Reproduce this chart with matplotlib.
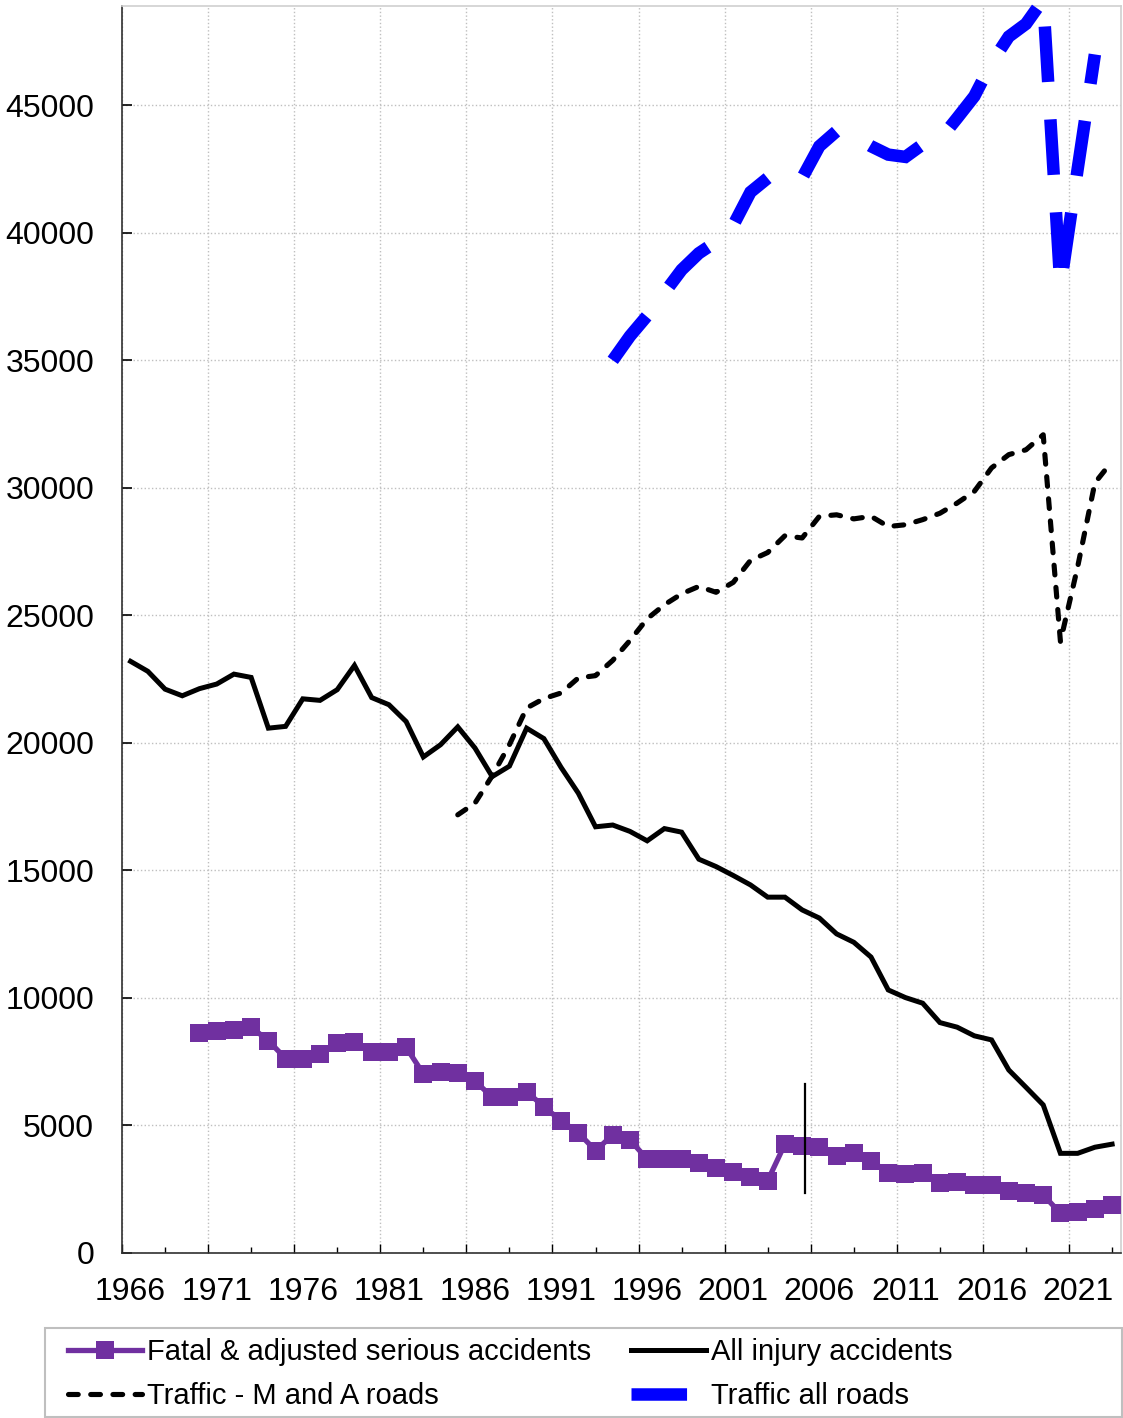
import matplotlib
matplotlib.use('Agg')
import matplotlib.pyplot as plt
from matplotlib.patches import Rectangle

plt.rcParams['font.family'] = ['Liberation Sans', 'DejaVu Sans']
plt.rcParams['lines.scale_dashes'] = False

# ---- data ----
injury_years = list(range(1966, 2024))
all_injury = [23190, 22800, 22100, 21840, 22120, 22300, 22690, 22560, 20570, 20640,
              21720, 21660, 22080, 23030, 21770, 21490, 20830, 19440, 19920, 20620,
              19790, 18670, 19080, 20570, 20160, 19030, 18020, 16700, 16770, 16520,
              16150, 16630, 16490, 15430, 15140, 14790, 14420, 13940, 13940, 13440,
              13120, 12500, 12170, 11590, 10300, 10000, 9780, 9020, 8840, 8500,
              8340, 7160, 6480, 5790, 3890, 3890, 4130, 4250]

fatal_years = list(range(1970, 2024))
fatal_serious = [8630, 8670, 8730, 8840, 8310, 7610, 7610, 7790, 8210, 8270,
                 7870, 7870, 8050, 7010, 7100, 7060, 6730, 6090, 6090, 6310,
                 5720, 5170, 4700, 4000, 4610, 4420, 3660, 3670, 3680, 3500,
                 3300, 3160, 2980, 2820, 4260, 4180, 4150, 3790, 3890, 3600,
                 3130, 3080, 3110, 2720, 2780, 2660, 2660, 2410, 2350, 2260,
                 1540, 1590, 1700, 1860]

ma_years = list(range(1985, 2024))
traffic_ma = [17170, 17630, 18700, 19920, 21360, 21730, 21950, 22540, 22630, 23230,
              24010, 24860, 25410, 25840, 26130, 25900, 26290, 27150, 27460, 28120,
              28030, 28880, 28940, 28780, 28880, 28480, 28550, 28750, 29000, 29400,
              29860, 30780, 31300, 31490, 32080, 23970, 26900, 30190, 31040]

all_roads_years = list(range(1994, 2023))
traffic_all = [35000, 35950, 36750, 37650, 38550, 39200, 39650, 40300, 41600, 42150,
               42100, 42150, 43400, 43990, 43800, 43400, 43070, 42980, 43470, 43660,
               44500, 45360, 46670, 47700, 48200, 49150, 37900, 42500, 47000]

label_years = list(range(1966, 2022, 5))
y_ticks = list(range(0, 45001, 5000))
break_year = 2005.15
break_span = [2330, 6610]

labels = ['Fatal & adjusted serious accidents', 'Traffic - M and A roads',
          'All injury accidents', 'Traffic all roads']

# ---- figure ----
W, H = 1123, 1418
fig = plt.figure(figsize=(W / 100, H / 100), dpi=100)
ax = fig.add_axes([122 / W, 1 - 1252.5 / H, (1120.7 - 122) / W, (1252.5 - 6) / H])

purple = '#7030A0'
fatal_line, = ax.plot(fatal_years, fatal_serious, color=purple, lw=3.8, marker='s',
                      markersize=13.2, markeredgewidth=0, zorder=4)
injury_line, = ax.plot(injury_years, all_injury, color='black', lw=3.6,
                       solid_joinstyle='miter', zorder=3)
ma_line, = ax.plot(ma_years, traffic_ma, color='black', lw=3.7, linestyle=(0, (7, 9)),
                   dash_capstyle='round', zorder=3)
all_line, = ax.plot(all_roads_years, traffic_all, color='#0000FF', lw=9,
                    linestyle=(0, (40, 27)), dash_capstyle='butt',
                    dash_joinstyle='miter', clip_on=False, zorder=3)
ax.plot([break_year, break_year], break_span, color='black', lw=1.6, zorder=5)

ax.set_xlim(1965.5, 2023.5)
ax.set_ylim(0, 48900)

# ticks and grid
ax.set_xticks(label_years)
ax.set_xticklabels([str(y) for y in label_years])
ax.set_xticks([b + 0.5 for b in range(1965, 2021, 5)], minor=True)
ax.tick_params(axis='x', which='major', length=0, pad=18, labelsize=23)
ax.tick_params(axis='x', which='minor', direction='in', length=6.5, width=1)
ax.set_yticks(y_ticks)
ax.set_yticklabels([str(v) for v in y_ticks])
ax.tick_params(axis='y', which='major', direction='in', length=7, width=1.2,
               pad=20, labelsize=23)

trans = ax.get_xaxis_transform()
mid_ticks = [b + 3 for b in range(1965, 2021, 5)]
ax.vlines(mid_ticks, 0, 6 / 1246.5, transform=trans, colors='black', lw=1)

ax.grid(which='minor', axis='x', linestyle=':', color='#bfbfbf', lw=1)
ax.grid(which='major', axis='y', linestyle=':', color='#bfbfbf', lw=1)
ax.set_axisbelow(True)

for side in ['top', 'right']:
    ax.spines[side].set_color('#d0d0d0')
    ax.spines[side].set_linewidth(1.2)
for side in ['left', 'bottom']:
    ax.spines[side].set_color('#303030')
    ax.spines[side].set_linewidth(1.2)

# legend
fig.add_artist(Rectangle((45 / W, 1 - 1417 / H), (1122 - 45) / W, (1417 - 1328) / H,
                         transform=fig.transFigure, fill=False,
                         edgecolor='#bfbfbf', lw=1.5))
handles = [fatal_line, ma_line, injury_line, all_line]
fig.legend(handles, labels, ncol=2, loc='upper left',
           bbox_to_anchor=(68 / W, 1 - 1338 / H), frameon=False, fontsize=21,
           handlelength=2.55, handletextpad=0.17, columnspacing=1.37,
           labelspacing=0.56, borderpad=0, borderaxespad=0, numpoints=1)

fig.savefig('out.png', dpi=100)
